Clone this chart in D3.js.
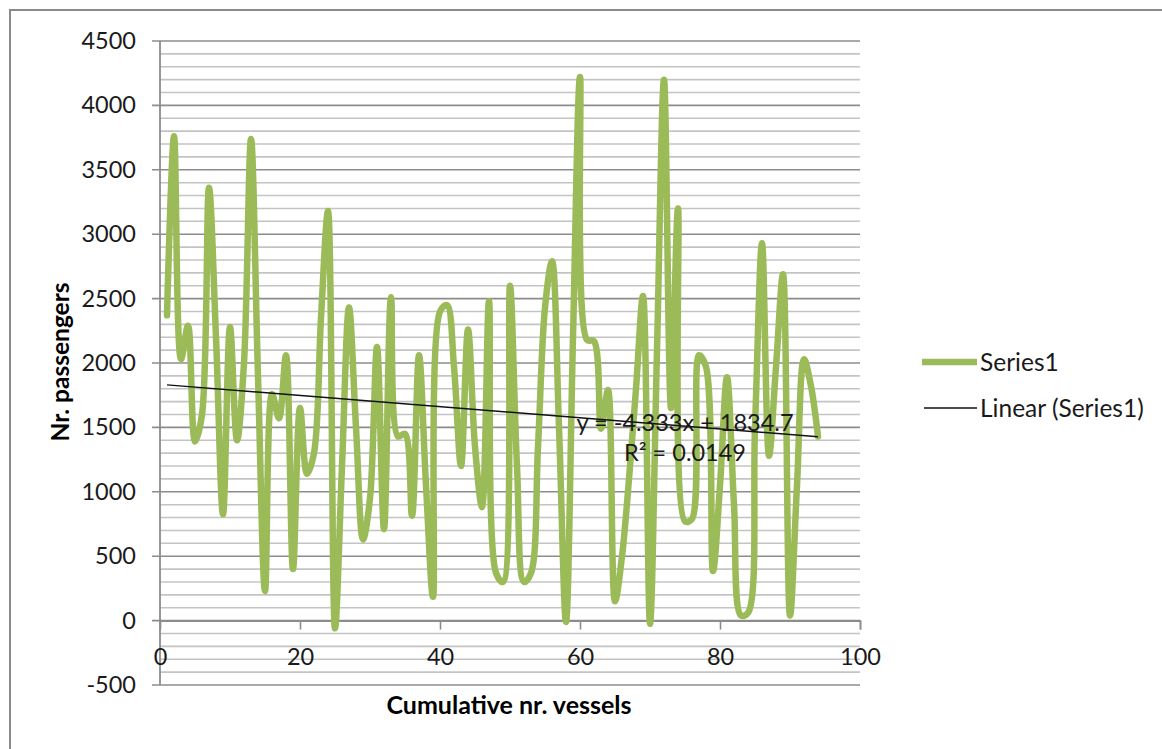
<!DOCTYPE html>
<html>
<head>
<meta charset="utf-8">
<script src="https://cdn.jsdelivr.net/npm/d3@7"></script>
<style>
  html, body { margin: 0; padding: 0; background: #fff; }
  svg { display: block; }
  text { font-family: Lato, "Open Sans", sans-serif; }
</style>
</head>
<body>
<svg id="chart" width="1162" height="749"></svg>
<script>
// Passengers per vessel, in arrival order (vessel 1 .. 94)
const passengers = [
  2370, 3760, 2030, 2290, 1390, 1600, 3360, 2200, 825, 2280,
  1400, 2000, 3740, 1900, 230, 1760, 1570, 2060, 400, 1650,
  1140, 1300, 2350, 3180, -60, 1200, 2430, 1500, 630, 950,
  2125, 710, 2510, 1430, 1450, 815, 2060, 1050, 185, 2400,
  2450, 1970, 1200, 2260, 1350, 880, 2480, 370, 300, 2600,
  1200, 300, 370, 1350, 2430, 2790, 1500, -10, 2200, 4220,
  2180, 2170, 1490, 1790, 150, 500, 1100, 1800, 2520, -25,
  2100, 4200, 1650, 3200, 770, 790, 2060, 1970, 385, 1050,
  1890, 900, 40, 60, 1500, 2930, 1280, 1970, 2690, 40,
  1050, 2030, 1820, 1430
];
const vessels = d3.range(1, passengers.length + 1);

// Linear trendline as reported on the chart
const trendSlope = -4.333;
const trendIntercept = 1834.7;
const rSquared = 0.0149;

// Axis ticks
const yTicks = [-500, 0, 500, 1000, 1500, 2000, 2500, 3000, 3500, 4000, 4500];
const yMinorTicks = d3.range(-500, 4501, 100);
const xTicks = [0, 20, 40, 60, 80, 100];

const seriesName = "Series1";
const trendName = "Linear (Series1)";
const xTitle = "Cumulative nr. vessels";
const yTitle = "Nr. passengers";

const svg = d3.select("#chart");

// outer chart frame
svg.append("rect")
  .attr("x", 10).attr("y", 10)
  .attr("width", 1170).attr("height", 770)
  .attr("fill", "#fff")
  .attr("stroke", "#8a8a8a").attr("stroke-width", 2);

const plot = { left: 160, right: 860, top: 41, bottom: 685 };

const x = d3.scaleLinear().domain([0, 100]).range([plot.left, plot.right]);
const y = d3.scaleLinear().domain([-500, 4500]).range([plot.bottom, plot.top]);

const plainNumber = d => String(d);

const g = svg.append("g");

// minor horizontal gridlines
g.append("g").selectAll("line")
  .data(yMinorTicks.filter(v => v % 500 !== 0))
  .join("line")
  .attr("x1", plot.left).attr("x2", plot.right)
  .attr("y1", d => y(d)).attr("y2", d => y(d))
  .attr("stroke", "#c4c4c4").attr("stroke-width", 1.6);

// major horizontal gridlines (with outward tick marks)
g.append("g").selectAll("line")
  .data(yTicks)
  .join("line")
  .attr("x1", plot.left - 8).attr("x2", plot.right)
  .attr("y1", d => y(d)).attr("y2", d => y(d))
  .attr("stroke", "#8c8c8c").attr("stroke-width", 1.6);

// vertical axis line
g.append("line")
  .attr("x1", x(0)).attr("x2", x(0))
  .attr("y1", plot.top).attr("y2", plot.bottom)
  .attr("stroke", "#8c8c8c").attr("stroke-width", 1.8);

// horizontal axis (at zero) with tick marks
const xAxis = d3.axisBottom(x).tickValues(xTicks).tickSize(9).tickFormat(plainNumber);
const xAxisG = g.append("g")
  .attr("transform", `translate(0,${y(0)})`)
  .call(xAxis);
xAxisG.select(".domain").attr("stroke", "#8c8c8c").attr("stroke-width", 1.6);
xAxisG.selectAll(".tick line")
  .attr("stroke", "#8c8c8c").attr("stroke-width", 1.6)
  .attr("display", d => d === 0 ? "none" : null);
xAxisG.selectAll(".tick text")
  .attr("y", 36).attr("dy", "0.35em")
  .attr("font-size", 23.5).attr("fill", "#1a1a1a")
  .attr("font-family", "Lato, sans-serif");

// y tick labels
const yAxis = d3.axisLeft(y).tickValues(yTicks).tickSize(0).tickPadding(24).tickFormat(plainNumber);
const yAxisG = g.append("g")
  .attr("transform", `translate(${plot.left},0)`)
  .call(yAxis);
yAxisG.select(".domain").remove();
yAxisG.selectAll(".tick text")
  .attr("font-size", 23.5).attr("fill", "#1a1a1a")
  .attr("font-family", "Lato, sans-serif");

// passenger series, smoothed
const line = d3.line()
  .x((d, i) => x(vessels[i]))
  .y(d => y(d))
  .curve(d3.curveCatmullRom.alpha(0.5));

g.append("path")
  .datum(passengers)
  .attr("fill", "none")
  .attr("stroke", "#9bbb59")
  .attr("stroke-width", 6.5)
  .attr("stroke-linejoin", "round")
  .attr("stroke-linecap", "round")
  .attr("d", line);

// linear trendline
const x0 = vessels[0], x1 = vessels[vessels.length - 1];
g.append("line")
  .attr("x1", x(x0)).attr("y1", y(trendSlope * x0 + trendIntercept))
  .attr("x2", x(x1)).attr("y2", y(trendSlope * x1 + trendIntercept))
  .attr("stroke", "#111").attr("stroke-width", 1.4);

// trendline equation label
const eqX = 685;
const eqLabel = g.append("text")
  .attr("text-anchor", "middle")
  .attr("font-size", 23.5).attr("fill", "#1a1a1a");
eqLabel.append("tspan")
  .attr("x", eqX).attr("y", 431)
  .text(`y = ${trendSlope}x + ${trendIntercept}`);
eqLabel.append("tspan")
  .attr("x", eqX).attr("y", 461)
  .text(`R² = ${rSquared}`);

// axis titles
svg.append("text")
  .attr("x", 509).attr("y", 714)
  .attr("text-anchor", "middle")
  .attr("font-size", 25).attr("font-weight", "bold").attr("fill", "#000")
  .text(xTitle);

svg.append("text")
  .attr("transform", "translate(69,362) rotate(-90)")
  .attr("text-anchor", "middle")
  .attr("font-size", 24.5).attr("font-weight", "bold").attr("fill", "#000")
  .text(yTitle);

// legend
const legend = svg.append("g");
legend.append("line")
  .attr("x1", 922).attr("x2", 977).attr("y1", 362).attr("y2", 362)
  .attr("stroke", "#9bbb59").attr("stroke-width", 6.5);
legend.append("text")
  .attr("x", 980).attr("y", 362).attr("dy", "0.35em")
  .attr("font-size", 24.5).attr("fill", "#1a1a1a")
  .text(seriesName);
legend.append("line")
  .attr("x1", 924).attr("x2", 977).attr("y1", 408).attr("y2", 408)
  .attr("stroke", "#111").attr("stroke-width", 1.4);
legend.append("text")
  .attr("x", 980).attr("y", 408).attr("dy", "0.35em")
  .attr("font-size", 24.5).attr("fill", "#1a1a1a")
  .text(trendName);
</script>
</body>
</html>
